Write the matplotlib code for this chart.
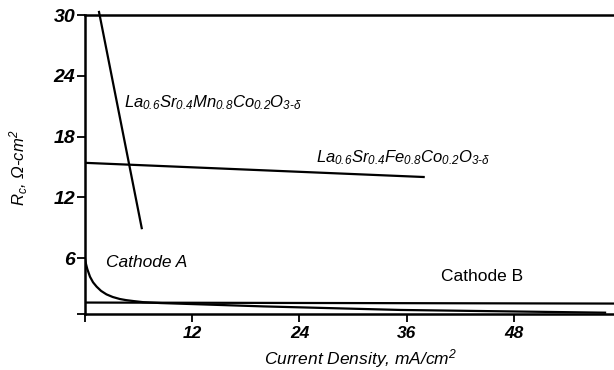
import matplotlib
matplotlib.use("Agg")
import matplotlib.pyplot as plt

# Data
lsmc_x = [1.57, 6.35]
lsmc_y = [30.3, 8.95]

lsfc_x = [0.0, 37.9]
lsfc_y = [15.4, 14.0]

cathA_x = [0.0, 0.1, 0.26, 0.56, 0.9, 1.3, 1.8, 2.4, 3.1, 3.9, 4.6, 5.4, 6.5, 8.5, 12.0, 20.0, 35.3, 58.2]
cathA_y = [5.95, 5.45, 4.9, 4.15, 3.6, 3.17, 2.75, 2.41, 2.15, 1.95, 1.84, 1.75, 1.64, 1.55, 1.45, 1.22, 0.87, 0.6]

cathB_x = [0.0, 59.5]
cathB_y = [1.6, 1.5]

x_ticks = [0, 12, 24, 36, 48]
x_ticklabels = ["", "12", "24", "36", "48"]
y_ticks = [0.47, 6, 12, 18, 24, 30]
y_ticklabels = ["", "6", "12", "18", "24", "30"]

plt.rcParams['font.family'] = ['Liberation Sans', 'DejaVu Sans']
plt.rcParams['mathtext.fontset'] = 'custom'
plt.rcParams['mathtext.rm'] = 'Liberation Sans:italic'
plt.rcParams['mathtext.it'] = 'Liberation Sans:italic'
plt.rcParams['mathtext.bf'] = 'Liberation Sans:bold:italic'

fig = plt.figure(figsize=(6.14, 3.70), dpi=100)
ax = fig.add_axes([85 / 614, 56 / 370, 529 / 614, 299 / 370])

lw = 1.6
ax.plot(lsmc_x, lsmc_y, color='black', lw=lw, clip_on=False)
ax.plot(lsfc_x, lsfc_y, color='black', lw=lw)
ax.plot(cathA_x, cathA_y, color='black', lw=lw)
ax.plot(cathB_x, cathB_y, color='black', lw=lw)

ax.set_xlim(0, 59.2)
ax.set_ylim(0.47, 30)

for s in ['top', 'left', 'bottom']:
    ax.spines[s].set_linewidth(1.8)
ax.spines['right'].set_visible(False)

ax.set_xticks(x_ticks)
ax.set_xticklabels(x_ticklabels)
ax.set_yticks(y_ticks)
ax.set_yticklabels(y_ticklabels)
ax.tick_params(axis='both', direction='out', length=6, width=1.3)
ax.tick_params(axis='x', pad=3, labelsize=12.5)
ax.tick_params(axis='y', pad=1, labelsize=14)
for lab in ax.get_xticklabels() + ax.get_yticklabels():
    lab.set_fontstyle('italic')
    lab.set_fontweight('bold')

ax.set_xlabel('Current Density, mA/cm$^2$', fontsize=12.5, fontstyle='italic', va='center')
ax.xaxis.set_label_coords((361 - 85) / 529, (314 - 359) / 299)
ax.set_ylabel('R$_c$, Ω-cm$^2$', fontsize=12, fontstyle='italic', va='center')
ax.yaxis.set_label_coords((19 - 85) / 529, (314 - 168) / 299)

ax.text(4.4, 21.3, r'$La_{0.6}Sr_{0.4}Mn_{0.8}Co_{0.2}O_{3\text{-}\delta}$',
        fontsize=12, va='center', ha='left')
ax.text(25.9, 15.9, r'$La_{0.6}Sr_{0.4}Fe_{0.8}Co_{0.2}O_{3\text{-}\delta}$',
        fontsize=12, va='center', ha='left')
ax.text(2.4, 5.6, 'Cathode A', fontsize=12.5, fontstyle='italic', va='center', ha='left')
ax.text(39.8, 4.2, 'Cathode B', fontsize=12.5, va='center', ha='left')

fig.savefig('out.png', dpi=100)
